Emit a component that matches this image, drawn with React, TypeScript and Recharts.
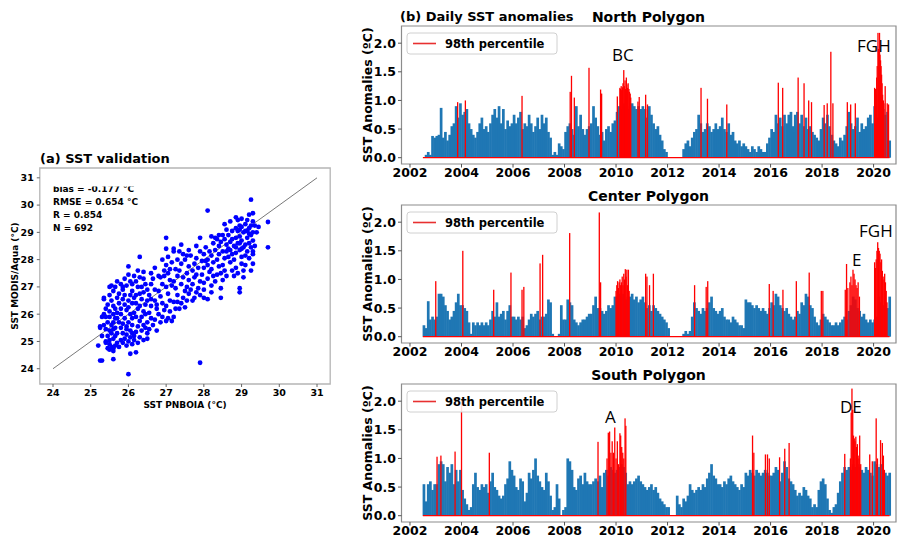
import React from 'react';
import {
  ScatterChart, Scatter, XAxis, YAxis, ReferenceLine, ReferenceArea,
  ComposedChart, Bar,
} from 'recharts';

const FONT = '"DejaVu Sans", sans-serif';
const NOTE_FONT = '"Open Sans", "Noto Sans", sans-serif';

// ---------- (a) SST validation ----------
const sstTicks = [24, 25, 26, 27, 28, 29, 30, 31];
const validationStats = ['bias = -0.177 °C', 'RMSE = 0.654 °C', 'R = 0.854', 'N = 692'];
const validationPoints: [number, number][] = [
  [25.2,24.85],[25.25,24.3],[25.3,24.3],[25.6,24.35],[26.0,23.8],[26.05,24.55],[26.2,24.6],[27.9,24.22],
  [25.25,25.5],[25.35,26.55],[26.0,27.75],[26.3,28.1],[27.0,28.8],[28.1,29.8],[29.25,30.2],[29.7,29.38],
  [29.7,28.45],[28.45,26.6],[28.1,26.55],[28.95,26.8],[28.95,26.95],[29.05,27.35],[29.3,29.7],[29.2,29.65],
  [28.85,29.55],[29.3,28.3],[27.9,28.8],[27.2,28.4],[27.4,28.55],[27.6,28.35],[27.8,28.5],
  [25.4,25.0],[25.45,25.2],[25.5,25.05],[25.5,24.9],[25.55,24.8],[25.6,24.75],[25.65,24.85],[25.7,24.95],
  [25.6,25.1],[25.55,25.3],[25.4,25.45],[25.35,25.6],[25.45,25.7],[25.5,25.9],[25.4,25.9],[25.35,26.0],
  [25.5,26.1],[25.6,26.3],[25.55,26.5],[25.5,26.7],[25.5,27.0],[25.55,27.05],[25.65,27.0],[25.6,26.85],
  [25.7,26.6],[25.75,26.4],[25.8,26.2],[25.7,26.05],[25.65,25.85],[25.75,25.7],[25.8,25.5],[25.85,25.3],
  [25.9,25.1],[25.85,24.95],[25.95,24.85],[26.0,25.0],[25.95,25.25],[26.05,25.4],[25.95,25.55],[26.0,25.7],
  [26.1,25.85],[26.05,26.0],[25.95,26.15],[25.9,26.35],[26.0,26.5],[25.9,26.7],[25.85,26.9],[25.8,27.1],
  [25.95,27.05],[26.05,27.2],[26.0,27.45],[26.1,26.85],[26.15,26.6],[26.2,26.4],[26.25,26.2],[26.15,26.05],
  [26.2,25.9],[26.3,25.75],[26.25,25.55],[26.2,25.35],[26.15,25.2],[26.3,25.15],[26.35,25.4],[26.4,25.6],
  [26.35,25.9],[26.4,26.1],[26.45,26.35],[26.35,26.55],[26.3,26.75],[26.25,27.0],[26.2,27.2],[26.3,27.35],
  [26.4,27.55],[26.25,27.6],[26.45,27.1],[26.5,26.9],[26.55,26.7],[26.5,26.5],[26.6,26.3],[26.55,26.05],
  [26.6,25.85],[26.5,25.7],[26.45,25.5],[26.5,25.3],[26.4,25.05],[26.5,25.1],[26.55,25.45],[25.3,25.9],
  [25.25,25.55],[25.4,24.95],[25.45,24.75],[25.5,24.7],[25.6,24.65],[25.75,24.8],[25.8,25.05],[25.7,25.3],
  [25.65,25.5],[25.6,25.7],[25.7,25.85],[25.8,26.0],[25.9,25.85],[25.85,25.65],[26.1,25.6],[26.1,25.3],
  [26.05,25.15],[26.15,25.05],[26.1,24.9],[26.25,24.95],[26.0,26.25],[26.1,26.4],[25.75,26.75],[25.85,26.55],
  [25.65,26.2],[25.6,26.0],[25.4,26.2],[25.45,26.35],[25.35,26.6],[25.7,27.2],[25.9,27.3],[26.1,27.1],
  [26.35,27.0],[26.4,26.8],[26.6,27.1],[26.7,26.9],[26.65,27.3],[26.6,27.5],[26.3,26.3],[26.45,26.0],
  [25.55,25.6],[25.5,25.4],[25.6,25.45],[25.3,25.2],[25.65,25.2],[25.95,25.45],[26.2,26.7],[26.05,26.7],
  [25.85,27.0],[26.15,27.4],[26.4,27.3],
  [26.7,26.5],[26.75,26.2],[26.8,26.0],[26.7,25.8],[26.65,25.6],[26.75,25.4],[26.85,25.7],[26.9,25.9],
  [26.95,26.15],[26.9,26.4],[26.85,26.65],[26.8,26.85],[26.9,27.1],[26.85,27.35],[26.95,27.6],[27.0,27.8],
  [27.05,27.5],[27.1,27.25],[27.0,27.0],[27.05,26.75],[27.1,26.5],[27.0,26.3],[27.1,26.1],[27.05,25.85],
  [27.0,25.75],[27.15,25.75],[27.2,25.9],[27.25,26.2],[27.2,26.45],[27.3,26.7],[27.25,26.95],[27.2,27.2],
  [27.3,27.4],[27.25,27.65],[27.15,27.9],[27.3,28.0],[27.4,27.85],[27.35,27.6],[27.45,27.35],[27.4,27.1],
  [27.5,26.85],[27.45,26.6],[27.4,26.4],[27.35,26.2],[27.5,26.25],[27.55,26.5],[27.6,26.75],[27.55,27.0],
  [27.6,27.25],[27.55,27.5],[27.6,27.75],[27.5,28.0],[27.45,28.2],[27.35,28.3],[27.55,28.15],[26.7,27.7],
  [26.8,27.4],[26.95,27.4],[27.1,27.65],[27.15,27.05],[27.3,26.45],[26.6,26.55],[27.05,28.1],[26.9,28.0],
  [26.75,26.35],[27.2,28.3],[27.0,28.4],
  [27.7,26.5],[27.65,26.9],[27.7,27.1],[27.75,27.35],[27.7,27.6],[27.75,27.85],[27.8,28.05],[27.85,27.7],
  [27.8,27.45],[27.9,27.2],[27.85,26.95],[27.9,26.7],[28.0,26.9],[28.0,27.15],[27.95,27.45],[28.0,27.7],
  [27.95,27.95],[28.0,28.2],[28.05,28.45],[28.1,28.0],[28.1,27.8],[28.15,27.55],[28.1,27.3],[28.2,27.05],
  [28.25,27.4],[28.2,27.65],[28.25,27.9],[28.2,28.15],[28.3,28.35],[28.25,28.6],[28.35,28.75],[28.4,28.5],
  [28.4,28.2],[28.35,28.0],[28.4,27.75],[28.45,27.5],[28.5,27.25],[28.5,27.8],[28.55,28.05],[28.5,28.3],
  [28.6,28.55],[28.55,28.75],[28.65,28.9],[28.7,28.65],[28.7,28.35],[28.65,28.1],[28.7,27.9],[28.75,27.6],
  [28.8,27.4],[28.85,27.7],[28.8,28.0],[28.85,28.25],[28.8,28.5],[28.85,28.8],[28.9,29.05],[28.95,28.85],
  [28.9,28.6],[28.95,28.35],[29.0,28.1],[29.0,27.85],[29.05,28.45],[29.0,28.7],[29.05,29.0],[29.0,29.2],
  [29.1,29.3],[29.1,29.05],[29.15,28.8],[29.1,28.55],[29.15,28.3],[29.2,28.05],[29.2,28.6],[29.25,28.9],
  [29.2,29.15],[29.3,29.0],[29.3,28.7],[29.25,28.45],[29.3,28.2],[29.35,28.5],[29.4,29.0],[29.45,29.2],
  [29.35,29.25],[28.95,29.25],[28.85,29.15],[28.75,29.05],[28.6,29.1],[28.5,28.9],[28.4,28.9],[28.3,28.8],
  [28.2,28.85],[28.9,27.5],[29.1,27.8],[29.25,27.6],[29.3,27.85],[28.6,27.4],[28.3,27.2],[28.45,26.95],
  [28.0,26.6],[28.2,26.8],[27.8,26.8],[27.75,26.6],[28.55,29.3],[28.7,29.4],[28.9,29.45],[29.0,29.5],
  [29.15,29.45],[29.05,27.6],[28.75,28.2],[28.6,28.3],[28.45,28.65],[28.15,28.3],[28.05,27.95],[27.9,28.3],
  [27.65,28.15],[28.35,27.45],[28.55,27.6],[29.2,28.95],[29.1,28.15],[29.0,28.4],[28.95,28.6],[28.85,28.45],
  [28.75,28.75],[28.65,28.4],[28.95,29.1],[29.15,29.05],[29.25,29.25],[29.3,29.4],
];

// ---------- (b) Daily SST anomalies ----------
const yearTicks = [2002, 2004, 2006, 2008, 2010, 2012, 2014, 2016, 2018, 2020];
const anomalyTicks = [0, 0.5, 1.0, 1.5, 2.0];
const seriesStart = 2002.5;
const seriesEnd = 2020.62;

// Monthly envelope of daily anomalies, Jul 2002 .. Aug 2020 (218 months)
const northBlue = [
  0, 0.05, 0.1, 0.05, 0.38, 0.35,
  0.38, 0.4, 0.87, 0.35, 0.45, 0.3, 0.4, 0.55, 0.6, 0.9, 0.7, 0.95,
  0.75, 0.8, 0.85, 0.6, 0.5, 0.4, 0.35, 0.45, 0.6, 0.7, 0.5, 0.55,
  0.45, 0.6, 0.75, 0.85, 0.7, 0.9, 0.6, 0.85, 0.5, 0.65, 0.55, 0.6,
  0.75, 0.6, 0.7, 0.8, 0.5, 0.6, 0.55, 0.75, 0.6, 0.45, 0.55, 0.7,
  0.5, 0.75, 0.6, 0.7, 0.45, 0.35, 0.05, 0.1, 0.05, 0.25, 0.2, 0.15,
  0.45, 0.55, 0.6, 0.5, 0.4, 0.9, 0.55, 0.75, 0.5, 0.4, 0.5, 0.55,
  0.6, 0.9, 0.7, 0.55, 0.4, 0.45, 0.3, 0.5, 0.55, 0.45, 0.6, 0.65,
  0.8, 0.9, 0.85, 0.95, 0.9, 0.85, 0.9, 0.95, 0.9, 0.85, 0.9, 0.85,
  0.9, 0.85, 0.7, 0.9, 0.75, 0.6, 0.5, 0.55, 0.4, 0.3, 0.15, 0.1,
  0, 0, 0, 0, 0, 0, 0, 0.15, 0.25, 0.3, 0.2, 0.35,
  0.45, 0.5, 0.75, 0.6, 0.45, 0.5, 0.6, 0.55, 0.45, 0.5, 0.6, 0.5,
  0.55, 0.7, 0.5, 0.45, 0.6, 0.4, 0.45, 0.3, 0.25, 0.3, 0.2, 0.25,
  0.2, 0.15, 0.1, 0.2, 0.15, 0.1, 0.2, 0.15, 0.1, 0.1, 0.25, 0.35,
  0.5, 0.45, 0.75, 0.6, 0.7, 0.55, 0.75, 0.6, 0.75, 0.8, 0.55, 0.75,
  0.8, 0.6, 0.75, 0.55, 0.7, 0.5, 0.55, 0.45, 0.4, 0.35, 0.3, 0.5,
  0.7, 0.6, 0.75, 0.55, 0.4, 0.3, 0.25, 0.2, 0.35, 0.3, 0.4, 0.55,
  0.8, 0.6, 0.5, 0.55, 0.7, 0.45, 0.6, 0.5, 0.55, 0.7, 0.75, 0.6,
  0.9, 0.7, 0.6, 0.7, 0.85, 0.75, 0.8, 0.3,
];
const northRed: [number, number][] = [
  [2003.85,0.97],[2004.15,1.0],[2006.35,1.08],[2008.22,1.15],[2008.27,1.43],[2008.38,1.05],[2008.95,1.57],
  [2009.4,1.19],[2009.44,1.12],[2010.05,1.07],[2010.15,1.22],[2010.17,1.2],[2010.2,1.25],[2010.22,1.18],
  [2010.25,1.23],[2010.27,1.3],[2010.3,1.53],[2010.32,1.25],[2010.35,1.35],[2010.37,1.2],[2010.4,1.4],
  [2010.42,1.28],[2010.45,1.22],[2010.47,1.3],[2010.5,1.2],[2010.52,1.15],[2010.55,1.12],[2010.57,1.05],
  [2010.85,0.98],[2010.9,1.06],[2011.15,1.1],[2011.22,0.93],[2013.3,1.22],[2013.55,1.03],[2014.3,0.93],
  [2016.3,1.31],[2016.47,1.22],[2017.07,1.4],[2017.3,1.3],[2017.48,1.0],[2017.59,0.97],[2018.08,0.92],
  [2018.2,0.95],[2018.34,1.85],[2018.42,0.95],[2018.98,0.97],[2019.11,0.93],[2019.29,0.95],
  [2020.04,1.22],[2020.06,1.0],[2020.08,1.2],[2020.1,1.1],[2020.12,1.4],[2020.14,1.6],[2020.17,2.18],
  [2020.19,1.9],[2020.21,1.7],[2020.23,2.18],[2020.25,1.8],[2020.27,1.7],[2020.29,1.6],[2020.31,1.45],
  [2020.33,1.3],[2020.35,1.1],[2020.38,1.0],[2020.4,0.95],[2020.45,1.25],[2020.53,0.95],[2020.58,0.93],
];

const centerBlue = [
  0.2, 0.15, 0.62, 0.3, 0.35, 0.3,
  0.35, 0.75, 0.75, 0.7, 0.55, 0.45, 0.3, 0.35, 0.45, 0.6, 0.75, 0.55,
  0.55, 0.5, 0.45, 0.25, 0.05, 0.25, 0.2, 0.25, 0.2, 0.25, 0.2, 0.25,
  0.2, 0.3, 0.45, 0.35, 0.6, 0.35, 0.4, 0.45, 0.3, 0.45, 0.55, 0.35,
  0.35, 0.3, 0.35, 0.3, 0.35, 0.15, 0.2, 0.3, 0.4, 0.35, 0.4, 0.45,
  0.3, 0.35, 0.35, 0.4, 0.65, 0.6, 0.05, 0, 0, 0.05, 0.55, 0.3,
  0.3, 0.65, 0.6, 0.55, 0.3, 0.25, 0.2, 0.25, 0.3, 0.3, 0.35, 0.4,
  0.4, 0.55, 0.7, 0.5, 0.5, 0.45, 0.4, 0.45, 0.55, 0.5, 0.55, 0.7,
  0.7, 0.75, 0.7, 0.75, 0.65, 0.7, 0.7, 0.75, 0.65, 0.7, 0.6, 0.65,
  0.7, 0.6, 0.5, 0.55, 0.45, 0.55, 0.5, 0.45, 0.4, 0.35, 0.3, 0.25,
  0.15, 0, 0, 0, 0, 0, 0, 0.05, 0.1, 0.05, 0.1, 0.35,
  0.6, 0.5, 0.45, 0.4, 0.5, 0.45, 0.5, 0.6, 0.7, 0.5, 0.45, 0.4,
  0.45, 0.5, 0.35, 0.3, 0.3, 0.25, 0.35, 0.3, 0.25, 0.2, 0.2, 0.15,
  0.65, 0.6, 0.6, 0.55, 0.5, 0.55, 0.5, 0.45, 0.5, 0.45, 0.4, 0.5,
  0.6, 0.55, 0.75, 0.7, 0.55, 0.5, 0.45, 0.5, 0.4, 0.35, 0.3, 0.35,
  0.45, 0.4, 0.6, 0.55, 0.75, 0.7, 0.55, 0.5, 0.35, 0.25, 0.2, 0.3,
  0.4, 0.35, 0.3, 0.25, 0.2, 0.2, 0.25, 0.2, 0.25, 0.3, 0.35, 0.3,
  0.45, 0.55, 0.7, 0.65, 0.5, 0.45, 0.35, 0.4, 0.3, 0.25, 0.3, 0.25,
  0.3, 0.35, 0.7, 0.6, 0.55, 0.6, 0.5, 0.7,
];
const centerRed: [number, number][] = [
  [2003.0,0.97],[2004.05,1.5],[2005.25,0.82],[2005.92,1.12],[2006.35,0.82],[2006.42,0.87],[2007.05,1.28],
  [2007.15,1.43],[2008.2,1.81],[2009.35,2.17],[2009.4,0.95],
  [2010.0,0.8],[2010.03,0.9],[2010.06,0.97],[2010.09,0.85],[2010.12,0.95],[2010.15,1.0],[2010.18,0.9],
  [2010.21,0.95],[2010.24,1.05],[2010.27,0.9],[2010.3,1.1],[2010.33,1.0],[2010.36,1.18],[2010.39,1.05],
  [2010.42,1.17],[2010.45,0.9],[2010.48,1.17],[2010.51,0.8],
  [2011.15,1.1],[2011.2,1.05],[2011.3,0.9],[2011.45,1.1],[2013.05,0.9],[2013.5,0.87],[2013.56,0.97],
  [2015.95,0.92],[2016.1,0.8],[2016.48,0.82],[2017.0,0.97],[2017.5,1.12],[2017.97,0.8],[2018.03,0.8],
  [2018.9,0.82],[2018.95,1.27],[2019.0,0.85],[2019.08,0.95],[2019.12,1.05],[2019.16,0.9],[2019.2,1.17],
  [2019.24,1.1],[2019.28,1.0],[2019.32,0.9],[2019.36,0.85],[2019.4,0.95],[2019.45,0.7],
  [2020.04,1.3],[2020.07,1.2],[2020.1,1.35],[2020.13,1.5],[2020.16,1.65],[2020.19,1.55],[2020.22,1.5],
  [2020.25,1.45],[2020.28,1.3],[2020.31,1.35],[2020.34,1.15],[2020.37,1.05],[2020.4,1.0],[2020.43,1.1],
  [2020.46,0.95],[2020.49,0.8],[2020.52,0.6],
];

const southBlue = [
  0.55, 0.25, 0.55, 0.6, 0.45, 0.55,
  0.55, 0.9, 0.95, 0.9, 0.6, 0.85, 0.75, 0.9, 0.55, 0.8, 0.6, 0.8,
  0.45, 0.3, 0.2, 0.1, 0.15, 0.55, 0.75, 0.5, 0.45, 0.55, 0.5, 0.55,
  0.4, 0.6, 0.75, 0.5, 0.45, 0.35, 0.3, 0.35, 0.55, 0.65, 0.95, 0.8,
  0.7, 0.5, 0.45, 0.65, 0.6, 0.25, 0.4, 0.75, 0.65, 0.8, 1.0, 0.7,
  0.6, 0.5, 0.45, 0.75, 0.6, 0.35, 0.1, 0.15, 0.55, 0.3, 0, 0.1,
  0.15, 1.0, 0.95, 0.8, 0.5, 0.45, 0.65, 0.7, 0.55, 0.75, 0.6, 0.55,
  0.55, 0.6, 0.65, 0.6, 0.7, 0.5, 0.75, 0.8, 0.7, 0.85, 0.8, 0.75,
  0.8, 0.85, 0.9, 0.85, 0.75, 0.55, 0.6, 0.55, 0.6, 0.65, 0.7, 0.6,
  0.55, 0.5, 0.45, 0.5, 0.55, 0.45, 0.5, 0.4, 0.3, 0.25, 0.2, 0.15,
  0.15, 0, 0, 0, 0.35, 0.2, 0.15, 0.3, 0.25, 0.35, 0.55, 0.45,
  0.4, 0.45, 0.5, 0.45, 0.55, 0.5, 0.65, 0.75, 0.9, 0.7, 0.65, 0.55,
  0.55, 0.5, 0.6, 0.55, 0.65, 0.7, 0.6, 0.55, 0.5, 0.45, 0.55, 0.5,
  0.75, 0.7, 0.8, 0.75, 0.7, 0.8, 0.75, 0.7, 0.75, 0.8, 0.75, 0.7,
  0.7, 0.75, 0.85, 0.8, 0.6, 0.75, 0.95, 0.85, 0.65, 0.6, 0.55, 0.45,
  0.35, 0.4, 0.35, 0.5, 0.45, 0.35, 0.3, 0.15, 0.2, 0.15, 0.45, 0.6,
  0.65, 0.55, 0.3, 0.1, 0.05, 0.15, 0.2, 0.4, 0.6, 0.75, 0.85, 0.8,
  0.85, 0.8, 0.9, 0.85, 0.9, 0.85, 0.8, 0.75, 0.85, 0.8, 0.75, 0.7,
  0.95, 0.9, 0.85, 0.9, 0.8, 0.75, 0.7, 0.75,
];
const southRed: [number, number][] = [
  [2003.05,1.03],[2003.2,1.05],[2003.75,1.12],[2004.0,2.0],[2005.08,1.1],[2009.3,1.29],
  [2009.65,1.0],[2009.7,1.45],[2009.75,1.47],[2009.8,1.1],[2009.85,1.3],[2009.9,1.1],[2009.95,1.54],
  [2010.0,1.0],[2010.05,1.3],[2010.1,0.9],[2010.15,1.44],[2010.18,1.4],[2010.22,1.2],[2010.26,1.1],
  [2010.3,1.0],[2010.35,1.7],[2010.38,1.57],
  [2015.3,1.4],[2015.35,1.1],[2015.8,1.07],[2015.88,1.07],[2015.95,1.0],[2016.35,1.02],[2016.55,1.17],
  [2016.72,1.27],[2018.88,1.08],
  [2019.1,1.0],[2019.13,1.8],[2019.16,2.22],[2019.19,1.85],[2019.22,1.4],[2019.25,1.35],[2019.28,1.3],
  [2019.31,1.38],[2019.34,1.2],[2019.37,1.25],[2019.4,1.05],[2019.43,1.0],[2019.46,1.4],[2019.5,0.9],
  [2019.85,1.07],[2019.95,0.95],[2020.1,1.7],[2020.15,1.0],[2020.27,1.32],[2020.34,1.27],[2020.38,1.05],
  [2020.42,0.8],
];

type Row = { t: number; blue?: number; red?: number };
function buildRows(blue: number[], red: [number, number][]): Row[] {
  const rows: Row[] = blue.map((v, i) => ({ t: 2002 + (6 + i + 0.5) / 12, blue: v }));
  red.forEach(([t, h]) => rows.push({ t, red: h }));
  rows.sort((a, b) => a.t - b.t);
  return rows;
}

const makeShape = (w: number, color: string) => (p: any) => {
  const { x, y, width, height } = p;
  if (x == null || !isFinite(x) || !height || height <= 0.01) return <g />;
  const cx = x + (isFinite(width) ? width / 2 : 0);
  return <rect x={cx - w / 2} y={y} width={w} height={height} fill={color} />;
};
const blueShape = makeShape(2.7, '#1f77b4');
const redShape = makeShape(1.3, '#ff0000');

const X_DOM: [number, number] = [2001.67, 2020.87];
const Y_DOM: [number, number] = [-0.11, 2.3];
const PLOT_H = 138;

const tickStyle = { fill: '#000', fontSize: 12.5, fontWeight: 700, fontFamily: FONT };

function AnomalyPanel({ top, blue, red }: { top: number; blue: number[]; red: [number, number][] }) {
  const data = buildRows(blue, red);
  return (
    <div style={{ position: 'absolute', left: 355, top: top - 10, width: 542, height: PLOT_H + 34 }}>
      <ComposedChart width={542} height={PLOT_H + 34} data={data}
        margin={{ top: 10, right: 1, bottom: 0, left: 6.5 }}>
        <XAxis dataKey="t" type="number" domain={X_DOM} ticks={yearTicks} allowDataOverflow interval={0}
          height={24} tickSize={3.5} tickMargin={1} axisLine={false}
          tickLine={{ stroke: '#555' }} tick={tickStyle} />
        <YAxis type="number" domain={Y_DOM} ticks={anomalyTicks} allowDataOverflow interval={0}
          width={40} tickSize={3.5} tickMargin={2} axisLine={false}
          tickLine={{ stroke: '#555' }} tick={tickStyle}
          tickFormatter={(v: number) => v.toFixed(1)} />
        <Bar dataKey="blue" stackId="s" isAnimationActive={false} shape={blueShape} />
        <Bar dataKey="red" stackId="s" isAnimationActive={false} shape={redShape} />
        <ReferenceLine segment={[{ x: seriesStart, y: 0 }, { x: seriesEnd, y: 0 }]}
          stroke="#ff0000" strokeWidth={1.3} />
        <ReferenceArea x1={X_DOM[0]} x2={X_DOM[1]} y1={Y_DOM[0]} y2={Y_DOM[1]}
          fill="none" stroke="#8c8c8c" strokeWidth={1.2} ifOverflow="visible" />
      </ComposedChart>
    </div>
  );
}

const panels = [
  { name: 'North Polygon', top: 26, blue: northBlue, red: northRed,
    notes: [{ text: 'BC', x: 612, y: 61 }, { text: 'FGH', x: 857, y: 52 }] },
  { name: 'Center Polygon', top: 205, blue: centerBlue, red: centerRed,
    notes: [{ text: 'E', x: 852, y: 266 }, { text: 'FGH', x: 859, y: 237 }] },
  { name: 'South Polygon', top: 384, blue: southBlue, red: southRed,
    notes: [{ text: 'A', x: 605, y: 423 }, { text: 'DE', x: 840, y: 413 }] },
];

const SX: [number, number] = [23.65, 31.35];
const SY: [number, number] = [23.44, 31.36];
const sTick = { fill: '#000', fontSize: 9.5, fontWeight: 700, fontFamily: FONT };

export default function App() {
  const pts = validationPoints.map(([x, y]) => ({ x, y }));
  return (
    <div style={{ position: 'absolute', left: 0, top: 0, width: 897, height: 539, background: '#fff', fontFamily: FONT }}>
      <div style={{ position: 'absolute', left: 0, top: 140, width: 340, height: 280 }}>
        <ScatterChart width={340} height={280} margin={{ top: 28, right: 9.8, bottom: 6, left: 9.8 }}>
          <XAxis type="number" dataKey="x" domain={SX} ticks={sstTicks} allowDataOverflow interval={0}
            height={30} tickSize={3} tickMargin={2} axisLine={false} tickLine={{ stroke: '#666' }} tick={sTick} />
          <YAxis type="number" dataKey="y" domain={SY} ticks={sstTicks} allowDataOverflow interval={0}
            width={30} tickSize={3} tickMargin={3} axisLine={false} tickLine={{ stroke: '#666' }} tick={sTick} />
          <ReferenceLine segment={[{ x: 24, y: 24 }, { x: 31, y: 31 }]} stroke="#555" strokeWidth={0.8} />
          <Scatter data={pts} isAnimationActive={false}
            shape={(p: any) => <circle cx={p.cx} cy={p.cy} r={2.4} fill="#0000ff" />} />
          <ReferenceArea x1={SX[0]} x2={SX[1]} y1={SY[0]} y2={SY[1]} fill="none"
            stroke="#b5b5b5" strokeWidth={1.3} ifOverflow="visible" />
        </ScatterChart>
      </div>

      {panels.map((p) => (
        <AnomalyPanel key={p.name} top={p.top} blue={p.blue} red={p.red} />
      ))}

      <svg width={897} height={539} style={{ position: 'absolute', left: 0, top: 0, pointerEvents: 'none' }}>
        <defs>
          <clipPath id="biasClip"><rect x={40} y={186.5} width={200} height={20} /></clipPath>
        </defs>
        <g fontFamily={FONT} fontWeight={700} fill="#000">
          <text x={40} y={163} fontSize={13}>(a) SST validation</text>
          <text x={185} y={408} fontSize={9} textAnchor="middle">SST PNBOIA (°C)</text>
          <text transform="translate(18,276) rotate(-90)" fontSize={9} textAnchor="middle">SST MODIS/Aqua (°C)</text>
          <text x={53} y={191.5} fontSize={9} clipPath="url(#biasClip)">{validationStats[0]}</text>
          <text x={53} y={204.5} fontSize={9}>{validationStats[1]}</text>
          <text x={53} y={217.7} fontSize={9}>{validationStats[2]}</text>
          <text x={53} y={231} fontSize={9}>{validationStats[3]}</text>
          <text x={400} y={21} fontSize={13}>(b) Daily SST anomalies</text>
          {panels.map((p) => (
            <g key={p.name}>
              <text x={648.5} y={p.top - 4} fontSize={14} textAnchor="middle">{p.name}</text>
              <text transform={`translate(372,${p.top + PLOT_H / 2}) rotate(-90)`} fontSize={12.5}
                textAnchor="middle">SST Anomalies (ºC)</text>
              <rect x={407} y={p.top + 7} width={150} height={21} rx={3} fill="#fff" fillOpacity={0.85}
                stroke="#d0d0d0" strokeWidth={1} />
              <line x1={413} x2={436} y1={p.top + 17.5} y2={p.top + 17.5} stroke="#e83030" strokeWidth={1.6} />
              <text x={445} y={p.top + 22} fontSize={11.5}>98th percentile</text>
            </g>
          ))}
        </g>
        <g fontFamily={NOTE_FONT} fontSize={17} fill="#000">
          {panels.flatMap((p) => p.notes.map((n) => (
            <text key={p.name + n.text} x={n.x} y={n.y}>{n.text}</text>
          )))}
        </g>
      </svg>
    </div>
  );
}
